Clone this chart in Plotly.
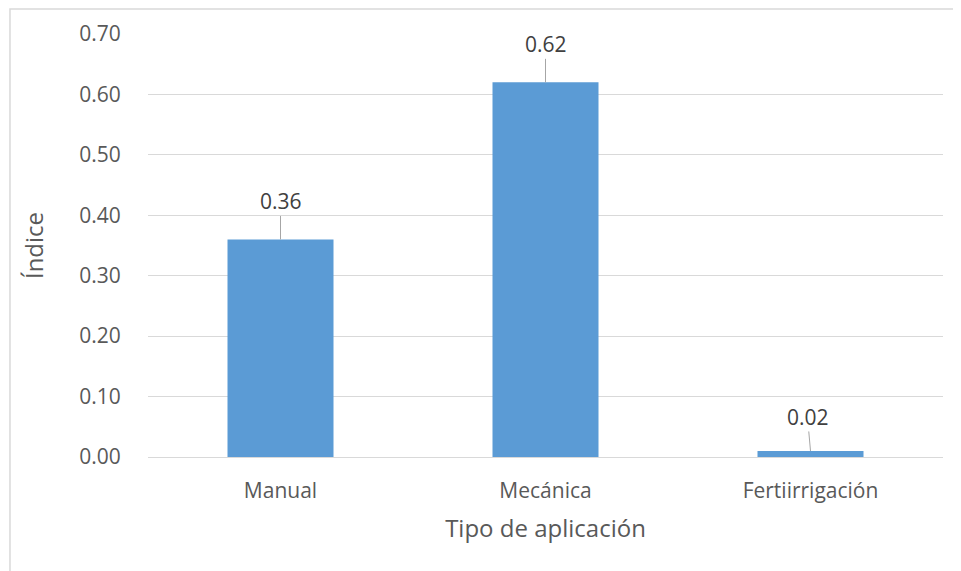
import plotly.graph_objects as go

categories = ["Manual", "Mecánica", "Fertiirrigación"]
values = [0.36, 0.62, 0.01]
value_labels = ["0.36", "0.62", "0.02"]
y_ticks = [0.0, 0.1, 0.2, 0.3, 0.4, 0.5, 0.6, 0.7]
y_tick_labels = ["0.00", "0.10", "0.20", "0.30", "0.40", "0.50", "0.60", "0.70"]

FONT = "Open Sans"
TXT = "#595959"

fig = go.Figure()
fig.add_trace(go.Bar(
    x=categories, y=values,
    marker=dict(color="#5b9bd5", line=dict(width=0)),
    width=0.4,
    hoverinfo="skip",
))

label_offsets = [(0, -38), (0, -38), (-3, -34)]
for cat, val, lab, (ax, ay) in zip(categories, values, value_labels, label_offsets):
    fig.add_annotation(
        x=cat, y=val, text=lab, showarrow=True, arrowhead=0, arrowwidth=1,
        arrowcolor="#a6a6a6", ax=ax, ay=ay, standoff=0, startstandoff=0,
        font=dict(family=FONT, size=21, color="#404040"),
        borderpad=0,
    )

fig.add_shape(type="rect", xref="paper", yref="paper",
              x0=-0.1736, x1=1.05, y0=-0.3, y1=1.059,
              line=dict(color="#d9d9d9", width=1.5), layer="below")

fig.update_layout(
    width=961, height=571,
    margin=dict(l=140, r=26, t=26, b=122),
    paper_bgcolor="white", plot_bgcolor="white",
    showlegend=False,
    font=dict(family=FONT, color=TXT),
    xaxis=dict(
        title=dict(text="Tipo de aplicación", font=dict(family=FONT, size=24, color=TXT), standoff=16),
        tickfont=dict(family=FONT, size=21, color=TXT),
        showline=False, showgrid=False,
        ticks="outside", ticklen=15, tickcolor="rgba(0,0,0,0)",
    ),
    yaxis=dict(
        title=dict(text="Índice", font=dict(family=FONT, size=24, color=TXT), standoff=28),
        range=[0, 0.7], tickvals=y_ticks, ticktext=y_tick_labels,
        tickfont=dict(family=FONT, size=21, color=TXT),
        showgrid=True, gridcolor="#d9d9d9", gridwidth=1.3,
        zeroline=True, zerolinecolor="#d9d9d9", zerolinewidth=1.3,
        ticks="outside", ticklen=22, tickcolor="rgba(0,0,0,0)",
    ),
)

fig.write_html("out.html")
